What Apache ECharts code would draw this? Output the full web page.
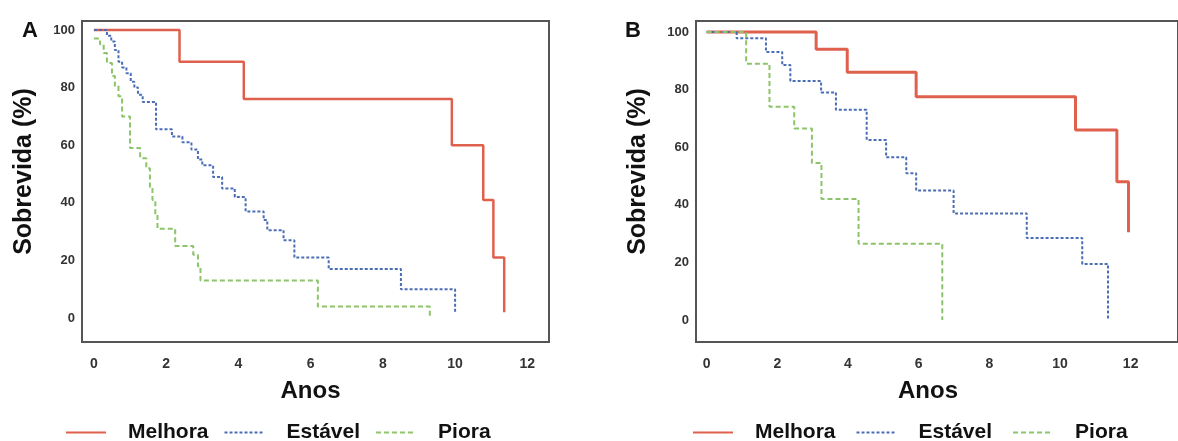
<!DOCTYPE html>
<html>
<head>
<meta charset="utf-8">
<script src="https://cdn.jsdelivr.net/npm/echarts/dist/echarts.min.js"></script>
<style>
  html, body { margin: 0; padding: 0; background: #fff; }
  #chart { width: 1178px; height: 441px; }
</style>
</head>
<body>
<div id="chart"></div>
<script>
// Painel A - tempos (anos) e sobrevida (%) apos cada evento
const melhoraA_t = [0, 2.37, 4.15, 9.91, 10.78, 11.06, 11.36];
const melhoraA_s = [100, 89, 76, 60, 41, 21, 2];

const estavelA_t = [0, 0.36, 0.48, 0.58, 0.68, 0.78, 0.9, 1.02, 1.12, 1.22, 1.35, 1.72, 2.16, 2.45, 2.7, 2.88, 3.0, 3.3, 3.55, 3.9, 4.2, 4.7, 4.8, 5.25, 5.55, 6.5, 8.5, 10.0];
const estavelA_s = [100, 98, 96, 93, 89, 87, 85, 82, 80, 77.5, 75, 65.5, 63, 61, 58.5, 55, 53, 49, 45, 42, 37, 34, 30.5, 27, 21, 17, 10, 2];

const pioraA_t = [0, 0.17, 0.27, 0.36, 0.5, 0.58, 0.68, 0.78, 1.0, 1.28, 1.45, 1.55, 1.62, 1.7, 1.76, 2.25, 2.75, 2.88, 2.95, 6.2, 9.3];
const pioraA_s = [97, 95, 92, 88.5, 84, 80.5, 77, 70, 59, 55.5, 52, 45.5, 41, 36, 31, 25, 22, 18, 13, 4, 0];

// Painel B
const melhoraB_t = [0, 3.1, 3.98, 5.93, 10.44, 11.61, 11.94];
const melhoraB_s = [100, 94, 86, 77.5, 66, 48, 30.5];

const estavelB_t = [0, 0.85, 1.68, 2.14, 2.37, 3.24, 3.66, 4.53, 5.08, 5.65, 5.93, 6.99, 9.06, 10.63, 11.36];
const estavelB_s = [100, 97.8, 93, 88.5, 83, 79, 73, 62.5, 56.5, 51, 45, 37, 28.5, 19.5, 0];

const pioraB_t = [0, 1.12, 1.78, 2.48, 2.98, 3.25, 4.3, 6.67];
const pioraB_s = [100, 89, 74, 66.5, 54.5, 42, 26.5, 0];

const xTicks = [0, 2, 4, 6, 8, 10, 12];
const yTicks = [0, 20, 40, 60, 80, 100];
const groups = ["Melhora", "Estável", "Piora"];

document.addEventListener("DOMContentLoaded", function () {
  const chart = echarts.init(document.getElementById("chart"));

  function pairs(t, s) {
    return t.map((v, i) => [v, s[i]]);
  }

  const styles = {
    Melhora: { color: "#e0604e", width: 2.5, type: "solid" },
    "Estável": { color: "#4a6db3", width: 2, type: [3, 2] },
    Piora: { color: "#8cc46a", width: 2, type: [5, 3] },
  };

  function makeSeries(name, data, idx) {
    const st = styles[name];
    return {
      name: name,
      type: "line",
      step: "end",
      xAxisIndex: idx,
      yAxisIndex: idx,
      data: data,
      symbol: "none",
      itemStyle: { color: st.color },
      lineStyle: { color: st.color, width: idx === 1 && name === "Melhora" ? 3 : st.width, type: st.type },
    };
  }

  function xAxis(gridIndex, min, max, nameShift) {
    return {
      type: "value",
      gridIndex: gridIndex,
      min: min,
      max: max,
      axisLine: { show: false },
      axisTick: { show: false },
      splitLine: { show: false },
      axisLabel: {
        customValues: xTicks,
        color: "#333",
        fontSize: 14,
        fontWeight: "bold",
        margin: 15,
      },
      name: "Anos",
      nameLocation: "middle",
      nameGap: 37,
      nameTextStyle: {
        color: "#111",
        fontSize: 24,
        fontWeight: "bold",
        padding: [0, nameShift, 0, 0],
      },
    };
  }

  function yAxis(gridIndex, min, max) {
    return {
      type: "value",
      gridIndex: gridIndex,
      min: min,
      max: max,
      axisLine: { show: false },
      axisTick: { show: false },
      splitLine: { show: false },
      axisLabel: {
        customValues: yTicks,
        color: "#333",
        fontSize: 13,
        fontWeight: "bold",
        margin: 7,
      },
      name: "Sobrevida (%)",
      nameLocation: "middle",
      nameGap: 45,
      nameTextStyle: {
        color: "#111",
        fontSize: 25,
        fontWeight: "bold",
        padding: [0, 0, 0, 20],
      },
    };
  }

  function legend(left, gap) {
    return {
      data: groups,
      left: left,
      top: 417,
      itemWidth: 40,
      itemHeight: 14,
      itemGap: gap,
      itemStyle: { opacity: 0 },
      textStyle: {
        fontSize: 21,
        fontWeight: "bold",
        color: "#111",
        padding: [0, 0, 0, 17],
      },
    };
  }

  const option = {
    animation: false,
    textStyle: { fontFamily: "Liberation Sans, Arial, sans-serif" },
    title: [
      { text: "A", left: 17, top: 15, textStyle: { fontSize: 22, fontWeight: "bold", color: "#111" } },
      { text: "B", left: 620, top: 15, textStyle: { fontSize: 22, fontWeight: "bold", color: "#111" } },
    ],
    legend: [legend(60, 15), legend(687, 20)],
    grid: [
      { left: 82, top: 21, width: 467, height: 321, show: true, borderColor: "#555", borderWidth: 2 },
      { left: 696, top: 21, width: 494, height: 321, show: true, borderColor: "#555", borderWidth: 2 },
    ],
    xAxis: [xAxis(0, -0.33, 12.6, 10), xAxis(1, -0.3, 13.34, 18)],
    yAxis: [yAxis(0, -8.3, 103.1), yAxis(1, -7.6, 103.8)],
    series: [
      makeSeries("Melhora", pairs(melhoraA_t, melhoraA_s), 0),
      makeSeries("Estável", pairs(estavelA_t, estavelA_s), 0),
      makeSeries("Piora", pairs(pioraA_t, pioraA_s), 0),
      makeSeries("Melhora", pairs(melhoraB_t, melhoraB_s), 1),
      makeSeries("Estável", pairs(estavelB_t, estavelB_s), 1),
      makeSeries("Piora", pairs(pioraB_t, pioraB_s), 1),
    ],
  };

  chart.setOption(option);
});
</script>
</body>
</html>
